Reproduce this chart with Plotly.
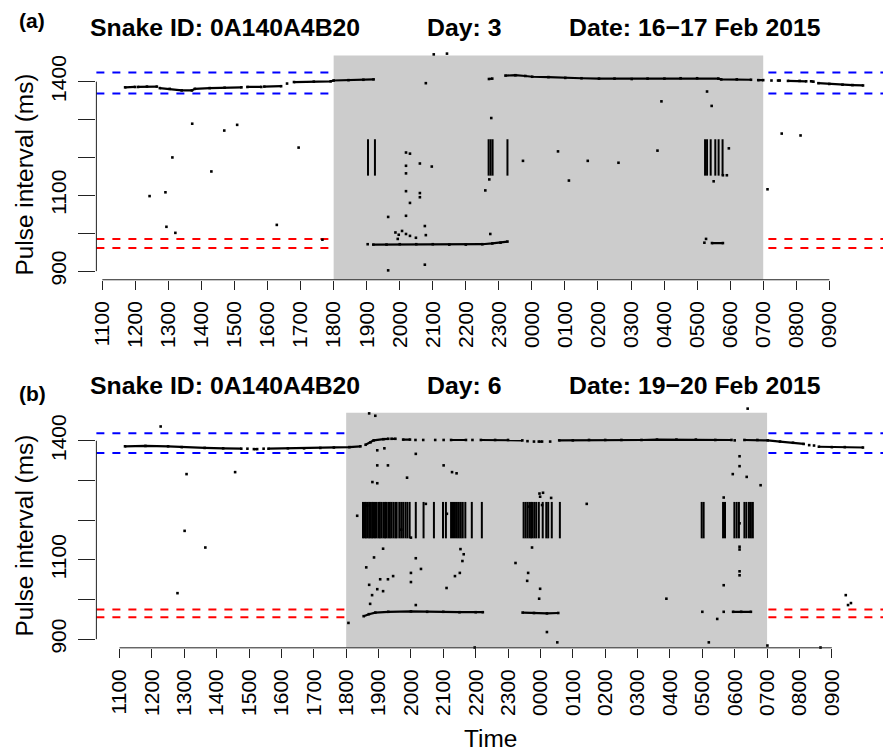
import plotly.graph_objects as go

W, H = 883, 756
FONT = "Liberation Sans, Arial, sans-serif"

# ---------------- shared axis data ----------------
TICK_HOURS = list(range(0, 23))          # hours elapsed since 11:00
TICK_LABELS = ["1100", "1200", "1300", "1400", "1500", "1600", "1700", "1800",
               "1900", "2000", "2100", "2200", "2300", "0000", "0100", "0200",
               "0300", "0400", "0500", "0600", "0700", "0800", "0900"]
Y_TICKS = [900, 1000, 1100, 1200, 1300, 1400]
Y_TICK_TEXT = ["900", "", "1100", "", "", "1400"]
NIGHT = [7, 20]          # 1800 -> 0700 (hours since 11:00)
EVENT_LEVEL = 1200

# ---------------- panel (a) ----------------
A_LABEL = "(a)"
A_SNAKE = "Snake ID: 0A140A4B20"
A_DAY = "Day: 3"
A_DATE = "Date: 16\u221217 Feb 2015"
A_BLUE = [1424, 1369]
A_RED = [985, 961]

A_upper_t = [0.69, 0.99, None, 1.08, 1.35, 1.65, None, 1.74, 2.04, 2.4, 2.71, 2.8, 3.25, 3.7, 4.21, None,
             4.39, 4.81, None, 4.90, 5.41, None, 5.59, None, 5.80, 6.4, 6.91, 7.0, 7.45, 7.9, 8.21, None,
             11.70, 11.80, None, 12.20, 12.5, 12.8, 13.01, 13.5, 14.01, 14.5, 15.03, 15.5, 16.02, 16.5,
             17.01, 17.5, 18.0, 18.64, 18.73, 19.2, 19.63, None, 19.85, 20.0, None, 20.25, None, 20.45,
             20.5, None, 20.75, 21.1, 21.3, None, 21.45, 21.52, None, 21.67, 22.0, 22.4, 22.7, 23.02]
A_upper_v = [1385, 1386, None, 1386, 1387, 1387, None, 1383, 1381, 1377, 1377, 1381, 1383, 1384, 1385, None,
             1386, 1386, None, 1387, 1388, None, 1395, None, 1399, 1400, 1401, 1403, 1404, 1405, 1406, None,
             1407, 1408, None, 1416, 1417, 1415, 1413, 1412, 1410, 1409, 1408, 1408, 1407, 1408,
             1408, 1409, 1409, 1408, 1406, 1406, 1405, None, 1404, 1404, None, 1403, None, 1403,
             1403, None, 1402, 1402, 1401, None, 1401, 1400, None, 1396, 1394, 1392, 1391, 1390]

A_lower_t = [8.03, None, 8.2, 8.6, 9.0, 9.5, 10.0, 10.5, 11.0, 11.5, 11.8, 12.05, 12.26, None,
             18.22, None, 18.45, 18.78]
A_lower_v = [971, None, 970, 970, 971, 971, 971, 970, 970, 971, 973, 975, 978, None,
             975, None, 974, 974]

A_events = [8.04, 8.25, 11.69, 11.75, 11.81, 12.26, 18.24, 18.30, 18.41, 18.55, 18.65, 18.77]

A_scatter_t = [2.72, 3.69, 4.08, 5.94, 2.12, 3.30, 1.43, 1.91, 1.94, 2.21, 5.28, 6.66, 8.65, 8.65,
               10.03, 10.43, 9.79, 11.77, 9.19, 9.31, 9.61, 9.97, 9.19, 9.19, 9.19, 9.31, 9.61, 9.61,
               9.19, 9.76, 8.87, 8.97, 9.07, 9.19, 9.31, 9.49, 9.79, 8.94, 11.74, 11.71, 11.59, 9.76,
               12.73, 13.79, 14.12, 14.69, 15.62, 16.92, 18.30, 18.44, 16.80, 18.96, 18.50, 18.78,
               18.90, 20.56, 21.13, 20.13, 18.27]
A_scatter_v = [1289, 1271, 1286, 1226, 1200, 1163, 1098, 1108, 1017, 1001, 1022, 983, 1043, 902,
               1472, 1474, 1396, 1304, 1213, 1210, 1184, 1176, 1178, 1158, 1111, 1080, 1106, 1095,
               1046, 1019, 1002, 996, 1006, 998, 993, 988, 995, 985, 998, 1142, 1113, 917,
               1191, 1216, 1139, 1191, 1186, 1348, 1374, 1336, 1218, 1224, 1137, 1153,
               1153, 1263, 1258, 1116, 985]

# ---------------- panel (b) ----------------
B_LABEL = "(b)"
B_SNAKE = "Snake ID: 0A140A4B20"
B_DAY = "Day: 6"
B_DATE = "Date: 19\u221220 Feb 2015"
B_BLUE = [1419, 1369]
B_RED = [975, 955]

B_upper_t = [0.17, 0.8, 1.5, 1.92, 2.63, 3.2, 3.76, None, 3.95, None, 4.15, 4.25, None, 4.45, None,
             4.6, 5.2, 5.7, 6.2, 6.62, 7.1, 7.44, None, 7.6, 7.75, 7.85, 8.15, 8.30, None, 8.40, 8.52, None,
             8.76, 8.97, None, 9.14, None, 9.38, None, 9.75, None, 10.01, None, 10.24, 10.7, None,
             10.9, None, 11.16, 11.6, 12.0, 12.44, None, 12.6, None, 12.8, None, 12.95, 13.05, None,
             13.3, None, 13.58, 14.0, 14.5, 15.0, 15.5, 16.12, 16.6, 17.2, 17.8, 18.4, 18.9, None,
             19.0, None, 19.3, 19.7, 20.02, 20.4, 20.8, 21.13, None, 21.3, None, 21.45, None,
             21.6, 22.0, 22.4, 22.96]
B_upper_v = [1386, 1387, 1386, 1384, 1382, 1381, 1380, None, 1380, None, 1379, 1379, None, 1380, None,
             1380, 1381, 1381, 1382, 1383, 1384, 1386, None, 1390, 1396, 1401, 1404, 1405, None, 1405, 1405, None,
             1403, 1403, None, 1402, None, 1402, None, 1402, None, 1402, None, 1402, 1402, None,
             1402, None, 1402, 1402, 1402, 1401, None, 1399, None, 1398, None, 1398, 1398, None,
             1398, None, 1401, 1401, 1402, 1402, 1402, 1402, 1403, 1403, 1403, 1402, 1402, None,
             1401, None, 1402, 1402, 1401, 1398, 1395, 1392, None, 1389, None, 1388, None,
             1385, 1384, 1384, 1383]

B_lower_t = [7.54, 7.7, 7.9, 8.3, 9.0, 9.5, 10.0, 10.5, 11.0, 11.22, None, 12.45, 12.8, 13.2, 13.55, None,
             18.0, None, 18.66, None, 18.95, 19.2, 19.5]
B_lower_v = [958, 963, 967, 969, 970, 969, 969, 968, 968, 968, None, 967, 966, 965, 966, None,
             969, None, 969, None, 969, 969, 969]

B_events = [7.52, 7.57, 7.61, 7.66, 7.71, 7.75, 7.80, 7.84, 7.89, 7.94, 8.00, 8.04, 8.09, 8.15, 8.20,
            8.24, 8.30, 8.35, 8.40, 8.46, 8.52, 8.56, 8.64, 8.70, 8.76, 8.83, 8.89, 8.96, 9.15, 9.39,
            9.71, 9.99, 10.08, 10.24, 10.30, 10.36, 10.42, 10.48, 10.54, 10.60, 10.68, 10.88, 11.19,
            12.48, 12.54, 12.60, 12.66, 12.71, 12.75, 12.81, 12.87, 12.95, 13.07, 13.18, 13.24, 13.35,
            13.60, 17.98, 18.04, 18.64, 18.70, 18.99, 19.06, 19.13, 19.30, 19.36, 19.44, 19.50, 19.56]

B_scatter_t = [1.27, 2.07, 3.57, 2.01, 2.65, 1.79,
               7.71, 7.90, 7.96, 8.18, 7.96, 8.29, 7.81, 7.96, 7.65, 7.34, 8.14, 7.86, 7.62, 8.05, 8.29,
               8.45, 7.71, 7.96, 8.14, 7.80, 7.74, 7.07,
               9.15, 10.01, 8.88, 10.27, 10.41, 9.46, 10.11, 8.70, 9.00, 9.15, 10.53, 10.63, 10.59, 9.31,
               9.00, 10.51, 10.36, 9.00, 10.10, 9.15, 10.97,
               12.97, 13.08, 12.99, 13.33, 12.66, 13.05, 14.43, 12.74, 12.23, 12.62, 12.59, 12.99, 12.96,
               13.20, 13.52,
               19.40, 19.15, 19.15, 18.94, 19.37, 19.80, 18.66, 19.15, 19.15, 19.15, 19.15, 19.15, 18.66,
               16.89, 18.46, 18.20, 20.01, 21.65, 22.43, 22.59, 22.50]
B_scatter_v = [1436, 1316, 1321, 1173, 1131, 1016,
               1469, 1463, 1376, 1381, 1338, 1338, 1296, 1293, 1237, 1211, 1128, 1106, 1081, 1051, 1051,
               1059, 1037, 1026, 1021, 1011, 989, 941,
               1367, 1338, 1307, 1321, 1318, 1241, 1216, 1176, 1156, 1104, 1127, 1114, 1097, 1077,
               1067, 1067, 1059, 1044, 1029, 986, 879,
               1267, 1269, 1259, 1256, 1234, 1238, 1241, 1131, 1092, 1067, 1047, 1027, 1002,
               918, 892,
               1481, 1361, 1336, 1316, 1309, 1288, 1257, 1192, 1133, 1126, 1071, 1061, 1036,
               1002, 951, 892, 884, 879, 1011, 991, 986]

# ---------------- layout geometry (pixels) ----------------
PLOT_LEFT, PLOT_RIGHT = 91, 883
PANELS = [
    dict(top=50, bottom=282, xr=[-0.18, 23.625], yr=[877.2, 1484.6], gray=[877.2, 1468.8],
         label_y=21, title_y=28, ytitle_y=176),
    dict(top=405, bottom=653, xr=[-0.715, 23.58], yr=[878.25, 1498.25], gray=[878.25, 1470.75],
         label_y=397, title_y=388.5, ytitle_y=540),
]
DATA = [
    dict(label=A_LABEL, snake=A_SNAKE, day=A_DAY, date=A_DATE, blue=A_BLUE, red=A_RED,
         ut=A_upper_t, uv=A_upper_v, lt=A_lower_t, lv=A_lower_v, ev=A_events,
         st=A_scatter_t, sv=A_scatter_v),
    dict(label=B_LABEL, snake=B_SNAKE, day=B_DAY, date=B_DATE, blue=B_BLUE, red=B_RED,
         ut=B_upper_t, uv=B_upper_v, lt=B_lower_t, lv=B_lower_v, ev=B_events,
         st=B_scatter_t, sv=B_scatter_v),
]

fig = go.Figure()
shapes = []
annotations = []
layout = {}

for i, (geo, d) in enumerate(zip(PANELS, DATA)):
    sfx = "" if i == 0 else str(i + 1)
    xa, ya = "x" + sfx, "y" + sfx
    dot = dict(symbol="square", size=2.6, color="black", line=dict(width=0))
    # dense traces
    for tt, vv in ((d["ut"], d["uv"]), (d["lt"], d["lv"])):
        fig.add_trace(go.Scatter(x=tt, y=vv, mode="lines+markers", xaxis=xa, yaxis=ya,
                                 line=dict(color="black", width=2.2), marker=dot,
                                 connectgaps=False, showlegend=False, cliponaxis=False))
    # scattered points
    fig.add_trace(go.Scatter(x=d["st"], y=d["sv"], mode="markers", xaxis=xa, yaxis=ya,
                             marker=dot, showlegend=False, cliponaxis=False))
    # event bars
    fig.add_trace(go.Scatter(x=d["ev"], y=[EVENT_LEVEL] * len(d["ev"]), mode="markers",
                             xaxis=xa, yaxis=ya, showlegend=False, cliponaxis=False,
                             marker=dict(symbol="line-ns", size=26,
                                         line=dict(width=2, color="black"))))

    # night shading
    shapes.append(dict(type="rect", xref=xa, yref=ya, x0=NIGHT[0], x1=NIGHT[1],
                       y0=geo["gray"][0], y1=geo["gray"][1], fillcolor="#CCCCCC",
                       line=dict(width=0), layer="below"))
    for val, col in [(v, "#0000FF") for v in d["blue"]] + [(v, "#FF0000") for v in d["red"]]:
        shapes.append(dict(type="line", xref=xa + " domain", yref=ya, x0=0, x1=1, y0=val, y1=val,
                           line=dict(color=col, width=2, dash="8px,8px"), layer="below"))
    # axis lines spanning tick range only
    shapes.append(dict(type="line", xref=xa, yref=ya + " domain", x0=TICK_HOURS[0], x1=TICK_HOURS[-1],
                       y0=0, y1=0, line=dict(color="#222222", width=1)))
    shapes.append(dict(type="line", xref=xa + " domain", yref=ya, x0=0, x1=0,
                       y0=Y_TICKS[0], y1=Y_TICKS[-1], line=dict(color="#222222", width=1)))

    ydom = [1 - geo["bottom"] / H, 1 - geo["top"] / H]
    layout["xaxis" + sfx] = dict(domain=[PLOT_LEFT / W, PLOT_RIGHT / W], range=geo["xr"],
                                 anchor=ya, tickmode="array", tickvals=TICK_HOURS, ticktext=TICK_LABELS,
                                 tickangle=-90, ticks="outside", ticklen=9, tickwidth=1, tickcolor="#222222",
                                 showline=False, showgrid=False, zeroline=False,
                                 tickfont=dict(family=FONT, size=21, color="black"),
                                 ticklabelstandoff=3)
    layout["yaxis" + sfx] = dict(domain=ydom, range=geo["yr"], anchor=xa, tickmode="array",
                                 tickvals=Y_TICKS, ticktext=Y_TICK_TEXT, tickangle=-90,
                                 ticks="outside", ticklen=17, tickwidth=1, tickcolor="#222222",
                                 showline=False, showgrid=False, zeroline=False,
                                 tickfont=dict(family=FONT, size=21, color="black"),
                                 ticklabelstandoff=4)

    bold = dict(family=FONT, size=24.8, color="black")
    annotations += [
        dict(text="<b>%s</b>" % d["label"], x=11 / W, y=1 - geo["label_y"] / H, xref="paper", yref="paper",
             xanchor="left", yanchor="middle", showarrow=False, font=dict(family=FONT, size=21, color="black")),
        dict(text="<b>%s</b>" % d["snake"], x=(PLOT_LEFT - 8) / W, y=1 - geo["title_y"] / H, xref="paper",
             yref="paper", xanchor="left", yanchor="middle", showarrow=False, font=bold),
        dict(text="<b>%s</b>" % d["day"], x=(428 - 6) / W, y=1 - geo["title_y"] / H, xref="paper",
             yref="paper", xanchor="left", yanchor="middle", showarrow=False, font=bold),
        dict(text="<b>%s</b>" % d["date"], x=(571 - 6) / W, y=1 - geo["title_y"] / H, xref="paper",
             yref="paper", xanchor="left", yanchor="middle", showarrow=False, font=bold),
        dict(text="Pulse interval (ms)", x=19 / W, y=1 - geo["ytitle_y"] / H, xref="paper", yref="paper",
             xanchor="center", yanchor="middle", textangle=-90, showarrow=False,
             font=dict(family=FONT, size=24.4, color="black")),
    ]

annotations.append(dict(text="Time", x=488 / W, y=1 - 744 / H, xref="paper", yref="paper",
                        xanchor="center", yanchor="middle", showarrow=False,
                        font=dict(family=FONT, size=24.4, color="black")))

fig.update_layout(width=W, height=H, autosize=False, margin=dict(l=0, r=0, t=0, b=0),
                  paper_bgcolor="white", plot_bgcolor="white", showlegend=False,
                  shapes=shapes, annotations=annotations, **layout)

fig.write_html("out.html")
